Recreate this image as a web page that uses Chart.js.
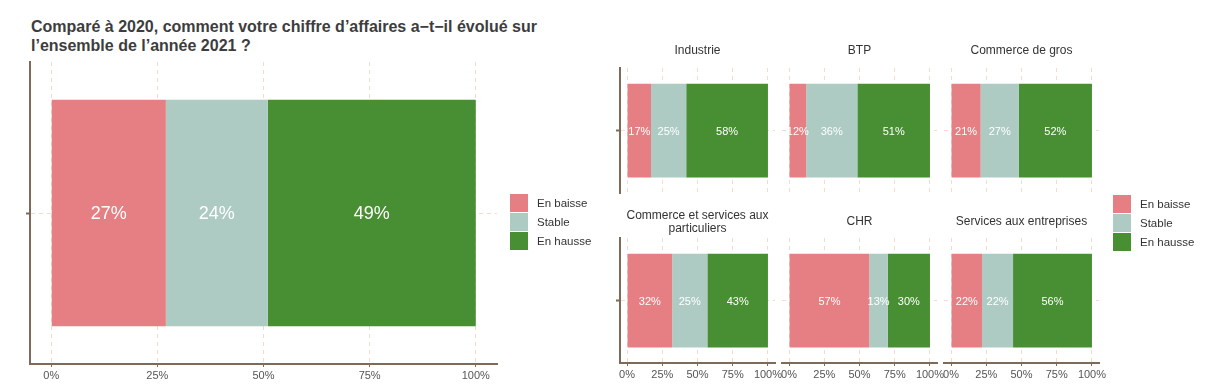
<!DOCTYPE html>
<html>
<head>
<meta charset="utf-8">
<script src="https://cdn.jsdelivr.net/npm/chart.js@4.4.1/dist/chart.umd.min.js"></script>
<style>
  body { margin: 0; background: #fff; font-family: "Liberation Sans", Arial, sans-serif; }
  #wrap { position: relative; width: 1216px; height: 385px; overflow: hidden; }
  canvas { position: absolute; }
  .title { position: absolute; left: 31px; top: 17px; font-size: 16px; font-weight: bold; color: #3d3d3d; line-height: 19px; }
  .strip { position: absolute; width: 155px; text-align: center; font-size: 12px; color: #333; line-height: 13px; }
  .legend { position: absolute; font-size: 11.5px; color: #333; }
  .legend div { height: 19px; line-height: 18px; white-space: nowrap; }
  .legend span { display: inline-block; width: 18px; height: 18px; vertical-align: top; margin-right: 9px; }
</style>
</head>
<body>
<div id="wrap">
  <div class="title">Comparé à 2020, comment votre chiffre d’affaires a−t−il évolué sur<br>l’ensemble de l’année 2021 ?</div>
</div>
<script>
// données
const series = ['En baisse', 'Stable', 'En hausse'];
const colors = ['#e57f83', '#adcbc3', '#488e32'];

const overall = [27, 24, 49];

const sectors = ['Industrie', 'BTP', 'Commerce de gros', 'Commerce et services aux particuliers', 'CHR', 'Services aux entreprises'];
const baisse = [17, 12, 21, 32, 57, 22];
const stable = [25, 36, 27, 25, 13, 22];
const hausse = [58, 51, 52, 43, 30, 56];

const xTicks = [0, 0.25, 0.5, 0.75, 1];
const xTickLabels = ['0%', '25%', '50%', '75%', '100%'];

const wrap = document.getElementById('wrap');
const FONT = '"Liberation Sans", Arial, sans-serif';
const AXIS = '#7d6a58';
const GRID = '#f2dccd';

const segLabels = {
  id: 'segLabels',
  afterDatasetsDraw(chart, args, opts) {
    const ctx = chart.ctx;
    ctx.save();
    ctx.fillStyle = '#ffffff';
    ctx.font = opts.size + 'px ' + FONT;
    ctx.textAlign = 'center';
    ctx.textBaseline = 'middle';
    chart.data.datasets.forEach((ds, i) => {
      chart.getDatasetMeta(i).data.forEach((bar, j) => {
        const c = bar.getCenterPoint();
        ctx.fillText(ds.pct[j] + '%', c.x, c.y + 1);
      });
    });
    ctx.restore();
  }
};

// area = zone du panneau (px), comme dans ggplot
function panel(values, area, o) {
  const M = 14;
  const yW = o.showY ? 6 : 0;
  const xH = o.showX ? 22 : 0;
  const padB = o.showX ? 0 : 6;
  const cv = document.createElement('canvas');
  cv.width = area.w + 2 * M;
  cv.height = area.h + M + xH + padB;
  cv.style.left = (area.x - M) + 'px';
  cv.style.top = (area.y - M) + 'px';
  wrap.appendChild(cv);

  const total = values.reduce((a, b) => a + b, 0);

  new Chart(cv, {
    type: 'bar',
    data: {
      labels: [''],
      datasets: values.map((v, i) => ({
        label: series[i],
        data: [v / total],
        pct: [v],
        backgroundColor: colors[i],
        borderWidth: 0,
        barPercentage: 0.75,
        categoryPercentage: 1
      }))
    },
    options: {
      indexAxis: 'y',
      responsive: false,
      animation: false,
      events: [],
      layout: { padding: { left: M - yW, right: M, top: M, bottom: padB } },
      plugins: { legend: { display: false }, tooltip: { enabled: false }, segLabels: { size: o.labelSize } },
      scales: {
        x: {
          stacked: true,
          min: -0.05,
          max: 1.05,
          afterBuildTicks: axis => { axis.ticks = xTicks.map(v => ({ value: v })); },
          afterFit: s => { s.height = xH; },
          grid: { color: GRID, lineWidth: 1, drawTicks: o.showX, tickLength: 3, tickColor: AXIS, tickWidth: 1 },
          border: { display: o.showX, color: AXIS, width: 2, dash: [4, 4] },
          ticks: {
            display: o.showX,
            color: '#555',
            font: { family: FONT, size: 11 },
            padding: 2,
            maxRotation: 0,
            autoSkip: false,
            callback: (v, i) => xTickLabels[i]
          }
        },
        y: {
          stacked: true,
          afterFit: s => { s.width = yW; },
          grid: { color: GRID, lineWidth: 1, offset: false, drawTicks: o.showY, tickLength: 4, tickColor: AXIS, tickWidth: 2 },
          border: { display: o.showY, color: AXIS, width: 2, dash: [4, 4] },
          ticks: { display: false }
        }
      }
    },
    plugins: [segLabels]
  });
}

function legend(x, y) {
  const d = document.createElement('div');
  d.className = 'legend';
  d.style.left = x + 'px';
  d.style.top = y + 'px';
  d.innerHTML = series.map((s, i) => '<div><span style="background:' + colors[i] + '"></span>' + s + '</div>').join('');
  wrap.appendChild(d);
}

// graphique global
panel(overall, { x: 30, y: 62, w: 467, h: 302 }, { showY: true, showX: true, labelSize: 18 });
legend(510, 194);

// facettes
const cols = [620, 782, 944];
const rows = [68, 238];
const stripTop = [44, 209];
sectors.forEach((name, k) => {
  const c = k % 3, r = Math.floor(k / 3);
  panel([baisse[k], stable[k], hausse[k]], { x: cols[c], y: rows[r], w: 155, h: 125 },
        { showY: c === 0, showX: r === 1, labelSize: 11 });
  const s = document.createElement('div');
  s.className = 'strip';
  s.style.left = cols[c] + 'px';
  const twoLines = name.length > 26;
  s.style.top = (stripTop[r] + (twoLines ? 0 : 6 * r)) + 'px';
  s.textContent = name;
  wrap.appendChild(s);
});
legend(1113, 195);
</script>
</body>
</html>
